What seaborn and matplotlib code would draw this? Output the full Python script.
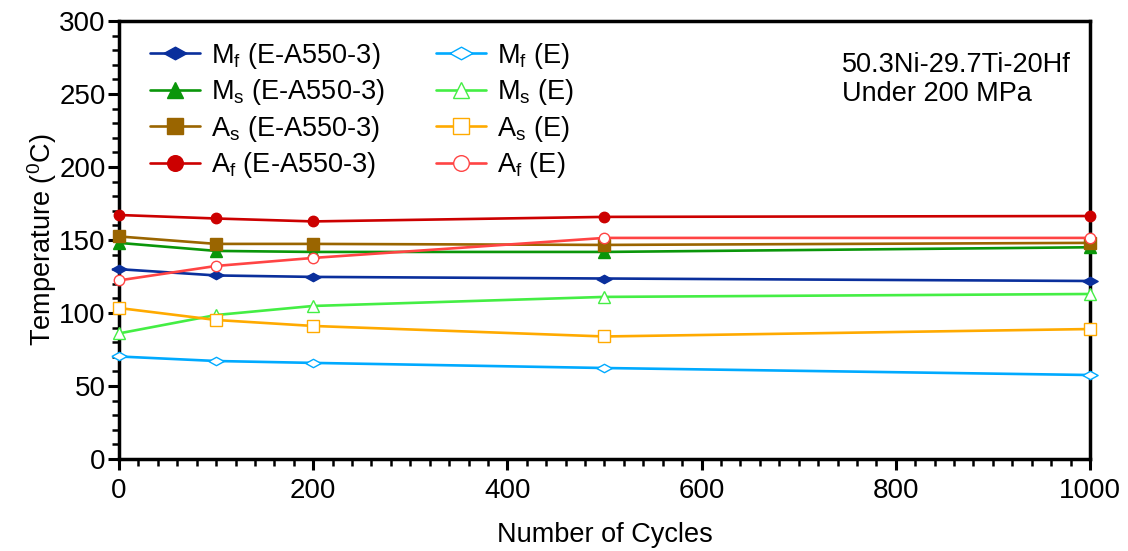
import matplotlib
matplotlib.use("Agg")
import matplotlib.pyplot as plt
from matplotlib.ticker import MultipleLocator
import seaborn as sns
import pandas as pd

cycles = [0, 100, 200, 500, 1000]

mf_ea = [130.0, 125.7, 124.7, 123.6, 121.9]
ms_ea = [148.0, 142.5, 141.8, 141.8, 145.0]
as_ea = [152.4, 147.3, 147.3, 146.6, 148.0]
af_ea = [167.1, 164.7, 162.7, 165.8, 166.4]

mf_e = [70.2, 67.1, 65.8, 62.3, 57.5]
ms_e = [86.0, 98.6, 104.8, 111.0, 113.0]
as_e = [103.4, 95.2, 91.1, 83.9, 89.0]
af_e = [122.3, 132.2, 137.7, 151.4, 151.4]

labels = [
    "M$_f$ (E-A550-3)", "M$_s$ (E-A550-3)", "A$_s$ (E-A550-3)", "A$_f$ (E-A550-3)",
    "M$_f$ (E)", "M$_s$ (E)", "A$_s$ (E)", "A$_f$ (E)",
]
series = [mf_ea, ms_ea, as_ea, af_ea, mf_e, ms_e, as_e, af_e]

sns.set_style("ticks")
plt.rcParams["font.family"] = ["Liberation Sans", "DejaVu Sans"]
plt.rcParams["mathtext.default"] = "regular"
for key in ("text.color", "axes.labelcolor", "xtick.color", "ytick.color"):
    plt.rcParams[key] = "black"

diamond = [(-1, 0), (0, 0.55), (1, 0), (0, -0.55), (-1, 0)]
styles = [
    dict(color="#0a2f9c", marker=diamond, ms=11, mfc="#0a2f9c"),
    dict(color="#0a960a", marker="^", ms=8, mfc="#0a960a"),
    dict(color="#9a6500", marker="s", ms=8, mfc="#9a6500"),
    dict(color="#cc0000", marker="o", ms=7.5, mfc="#cc0000"),
    dict(color="#00aaff", marker=diamond, ms=11, mfc="white"),
    dict(color="#44ee44", marker="^", ms=8, mfc="white"),
    dict(color="#ffaa00", marker="s", ms=8, mfc="white"),
    dict(color="#ff4444", marker="o", ms=7.5, mfc="white"),
]

fig = plt.figure(figsize=(11.28, 5.51), dpi=100)
ax = fig.add_axes([0.1055, 0.167, 0.8608, 0.795])

for vals, lab, st in zip(series, labels, styles):
    df = pd.DataFrame({"Cycles": cycles, "T": vals})
    sns.lineplot(data=df, x="Cycles", y="T", ax=ax, label=lab,
                 color=st["color"], marker=st["marker"], markersize=st["ms"],
                 markerfacecolor=st["mfc"], markeredgecolor=st["color"],
                 markeredgewidth=1.0, linewidth=1.9, clip_on=False, zorder=3)

ax.set_xlim(0, 1000)
ax.set_ylim(0, 300)
ax.xaxis.set_major_locator(MultipleLocator(200))
ax.xaxis.set_minor_locator(MultipleLocator(20))
ax.yaxis.set_major_locator(MultipleLocator(50))
ax.yaxis.set_minor_locator(MultipleLocator(10))
ax.tick_params(which="major", direction="out", length=8, width=2.2, labelsize=20)
ax.tick_params(axis="y", which="major", pad=1.5)
ax.tick_params(axis="x", which="major", pad=6)
ax.tick_params(which="minor", direction="out", length=5, width=1.8)
for sp in ax.spines.values():
    sp.set_linewidth(2.5)
    sp.set_color("black")

ax.set_xlabel("Number of Cycles", fontsize=19.5, labelpad=13)
ax.set_ylabel("Temperature ($^{0}$C)", fontsize=19.5, labelpad=0)

ax.text(0.745, 0.93, "50.3Ni-29.7Ti-20Hf\nUnder 200 MPa", transform=ax.transAxes,
        fontsize=19.5, ha="left", va="top", linespacing=1.15)

ax.legend(ncol=2, loc="upper left", frameon=False, fontsize=19.5,
          bbox_to_anchor=(0.007, 1.01), markerscale=1.5, handlelength=1.85,
          columnspacing=1.9, labelspacing=0.24, handletextpad=0.4,
          borderaxespad=0.5, borderpad=0.4)

fig.savefig("out.png", dpi=100)
